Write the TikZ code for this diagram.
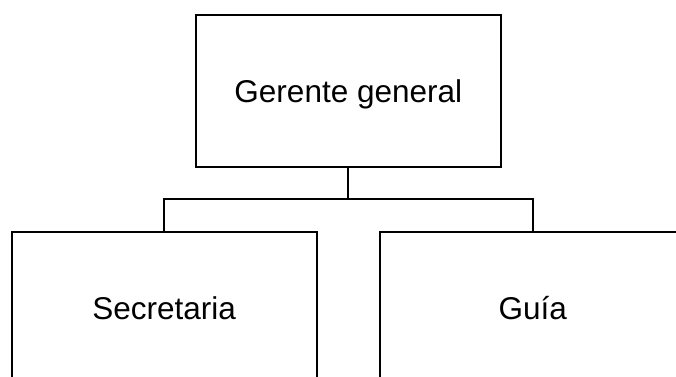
\documentclass[tikz,border=0pt]{standalone}
\usepackage{fontspec}
\setmainfont{Liberation Sans}
\begin{document}
\begin{tikzpicture}[x=1pt,y=1pt,
  orgbox/.style={draw=black, line width=1.8pt, fill=white, rectangle,
    minimum width=305pt, minimum height=152pt, inner sep=0pt,
    text height=22.7pt, text depth=0pt,
    font=\fontsize{31.5}{36}\selectfont},
  link/.style={draw=black, line width=1.8pt}]
  \useasboundingbox (0,0) rectangle (676,376);
  \clip (0,0) rectangle (676,376);
  % org chart boxes
  \node[orgbox] (top)  at (348.3,285)  {Gerente general};
  \node[orgbox] (sec)  at (164.2,68)   {Secretaria};
  \node[orgbox] (guia) at (532.8,68)   {Guía};
  % branching connector
  \coordinate (bar) at (348.3,176.7);
  \draw[link] (top.south) -- (bar);
  \draw[link] (sec.north) |- (bar) -| (guia.north);
\end{tikzpicture}
\end{document}
